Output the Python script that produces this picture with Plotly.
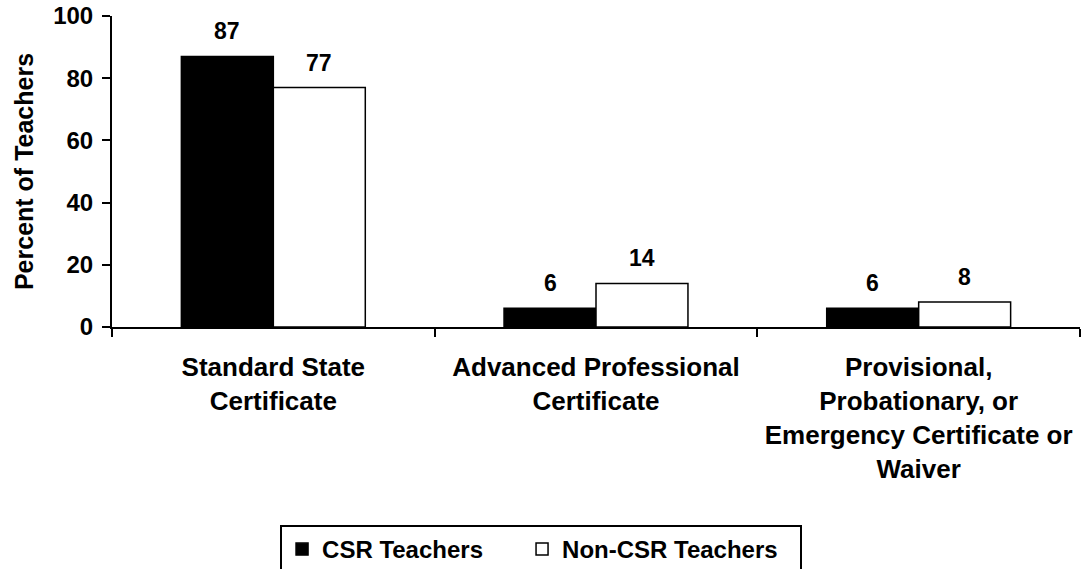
import plotly.graph_objects as go

categories = [
    "Standard State<br>Certificate",
    "Advanced Professional<br>Certificate",
    "Provisional,<br>Probationary, or<br>Emergency Certificate or<br>Waiver",
]
csr_values = [87, 6, 6]
non_csr_values = [77, 14, 8]
series_names = ["CSR Teachers", "Non-CSR Teachers"]
y_ticks = [0, 20, 40, 60, 80, 100]

FONT = "Liberation Sans, Arial, sans-serif"

fig = go.Figure()
fig.add_trace(go.Bar(
    x=categories, y=csr_values, name=series_names[0], legendwidth=195,
    marker=dict(color="black", line=dict(color="black", width=1.5)),
))
fig.add_trace(go.Bar(
    x=categories, y=non_csr_values, name=series_names[1], legendwidth=233,
    marker=dict(color="white", line=dict(color="black", width=1.5)),
))

# value labels above the bars
for vals, shift in [(csr_values, -46), (non_csr_values, 46)]:
    for cat, v in zip(categories, vals):
        fig.add_annotation(
            x=cat, y=v, text=f"<b>{v}</b>", showarrow=False,
            xshift=shift, yshift=10, yanchor="bottom",
            font=dict(family=FONT, size=23, color="black"),
        )

fig.update_layout(
    width=1081, height=569,
    barmode="group", bargap=0.43, bargroupgap=0,
    plot_bgcolor="white", paper_bgcolor="white",
    margin=dict(l=112, r=1, t=16, b=242),
    font=dict(family=FONT, color="black"),
    showlegend=True,
    legend=dict(
        orientation="h", x=0.1736, xanchor="left",
        yref="container", y=0.0773, yanchor="top",
        bordercolor="black", borderwidth=2,
        font=dict(family=FONT, size=24, color="black", weight="bold"),
        traceorder="normal",
    ),
)
fig.update_xaxes(
    automargin=False,
    showline=True, linecolor="black", linewidth=2,
    ticks="outside", tickson="boundaries", ticklen=8, tickwidth=2, tickcolor="black",
    ticklabelstandoff=16,
    tickfont=dict(family=FONT, size=26, color="black", weight="bold"),
    showgrid=False,
)
fig.update_yaxes(
    automargin=False,
    range=[0, 100], tickvals=y_ticks,
    showline=True, linecolor="black", linewidth=2,
    ticks="outside", ticklen=8, tickwidth=2, tickcolor="black",
    ticklabelstandoff=4,
    tickfont=dict(family=FONT, size=24, color="black", weight="bold"),
    showgrid=False, zeroline=False,
    title=dict(text="Percent of Teachers", standoff=12,
               font=dict(family=FONT, size=25, color="black", weight="bold")),
)

fig.write_html("out.html", config={"displayModeBar": False},
               post_script="document.body.style.margin='0';")
